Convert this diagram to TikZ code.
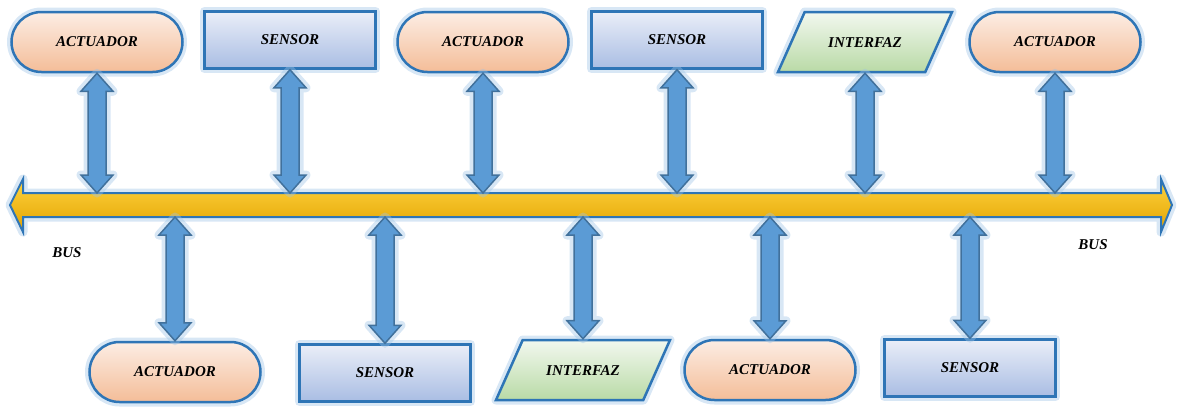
\documentclass[tikz,border=0pt]{standalone}
\usepackage{fontspec}
\setmainfont{Liberation Serif}
\usepackage{tikz}
\usetikzlibrary{shapes.misc, shapes.geometric, calc}
\definecolor{edge}{HTML}{2E75B6}
\definecolor{halo}{HTML}{9DC3E6}
\definecolor{arrFill}{HTML}{5B9BD5}
\definecolor{arrEdge}{HTML}{41719C}
\definecolor{orTop}{HTML}{FCEDE4}
\definecolor{orBot}{HTML}{F4BD98}
\definecolor{blTop}{HTML}{EAEEF8}
\definecolor{blBot}{HTML}{A9BDE3}
\definecolor{grTop}{HTML}{F2F8EF}
\definecolor{grBot}{HTML}{B9DAA6}
\definecolor{busTop}{HTML}{FFD43F}
\definecolor{busBot}{HTML}{E2A200}

\begin{document}
\begin{tikzpicture}[
                x = 1pt, y = -1pt,
                glow/.style = {preaction={draw=halo, line width=9pt, opacity=0.4, line join=round}},
                box/.style = {glow, draw=edge, line width=2.5pt, inner sep=0pt,
                              font=\fontsize{15}{18}\selectfont\bfseries\itshape},
                act/.style = {box, rounded rectangle, minimum width=171pt, minimum height=60pt,
                              top color=orTop, bottom color=orBot},
                sen/.style = {box, rectangle, minimum width=171pt, minimum height=57pt,
                              top color=blTop, bottom color=blBot},
                itf/.style = {box, trapezium, trapezium left angle=66, trapezium right angle=114,
                              trapezium stretches body=true, inner ysep=0pt,
                              text height=30pt, text depth=30pt, minimum width=174pt,
                              top color=grTop, bottom color=grBot},
                lbl/.style = {font=\fontsize{15}{18}\selectfont\bfseries\itshape},
                fat/.style = {glow, draw=arrEdge, line width=1.5pt, fill=arrFill, line join=miter,
                              to path={let \p1=(\tikztostart), \p2=(\tikztotarget) in
                                (\x1,\y1) -- (\x1+16pt,\y1-18pt) -- (\x1+9pt,\y1-18pt)
                                -- (\x1+9pt,\y2+18pt) -- (\x1+16pt,\y2+18pt) -- (\x1,\y2)
                                -- (\x1-16pt,\y2+18pt) -- (\x1-9pt,\y2+18pt)
                                -- (\x1-9pt,\y1-18pt) -- (\x1-16pt,\y1-18pt) -- cycle}}
                    ]
                \useasboundingbox (0,0) rectangle (1178,407);
                % bus
                \draw[glow, draw=edge, line width=2pt, top color=busTop, bottom color=busBot,
                      line join=miter]
                    (10,205) -- (23,179) -- (23,193) -- (1161,193) -- (1161,179) -- (1172,205)
                    -- (1161,232) -- (1161,217) -- (23,217) -- (23,232) -- cycle;
                \coordinate (bustop) at (0,193);
                \coordinate (busbot) at (0,217);
                \node[lbl] (bus1) at (67,253) {BUS};
                \node[lbl] (bus2) at (1093,245) {BUS};
                % top row
                \node[act] (t1) at (97,42) {ACTUADOR};
                \node[sen] (t2) at (290,40) {SENSOR};
                \node[act] (t3) at (483,42) {ACTUADOR};
                \node[sen] (t4) at (677,40) {SENSOR};
                \node[itf] (t5) at (865,42) {\raisebox{-5pt}{INTERFAZ}};
                \node[act] (t6) at (1055,42) {ACTUADOR};
                % bottom row
                \node[act] (b1) at (175,372) {ACTUADOR};
                \node[sen] (b2) at (385,373) {SENSOR};
                \node[itf] (b3) at (583,370) {\raisebox{-5pt}{INTERFAZ}};
                \node[act] (b4) at (770,370) {ACTUADOR};
                \node[sen] (b5) at (970,368) {SENSOR};
                % links
                \foreach \k in {t1,t2,t3,t4,t5,t6}
                    \draw[fat] (\k.south) to (\k.south |- bustop);
                \foreach \k in {b1,b2,b3,b4,b5}
                    \draw[fat] (\k.north |- busbot) to (\k.north);
            \end{tikzpicture}
\end{document}
